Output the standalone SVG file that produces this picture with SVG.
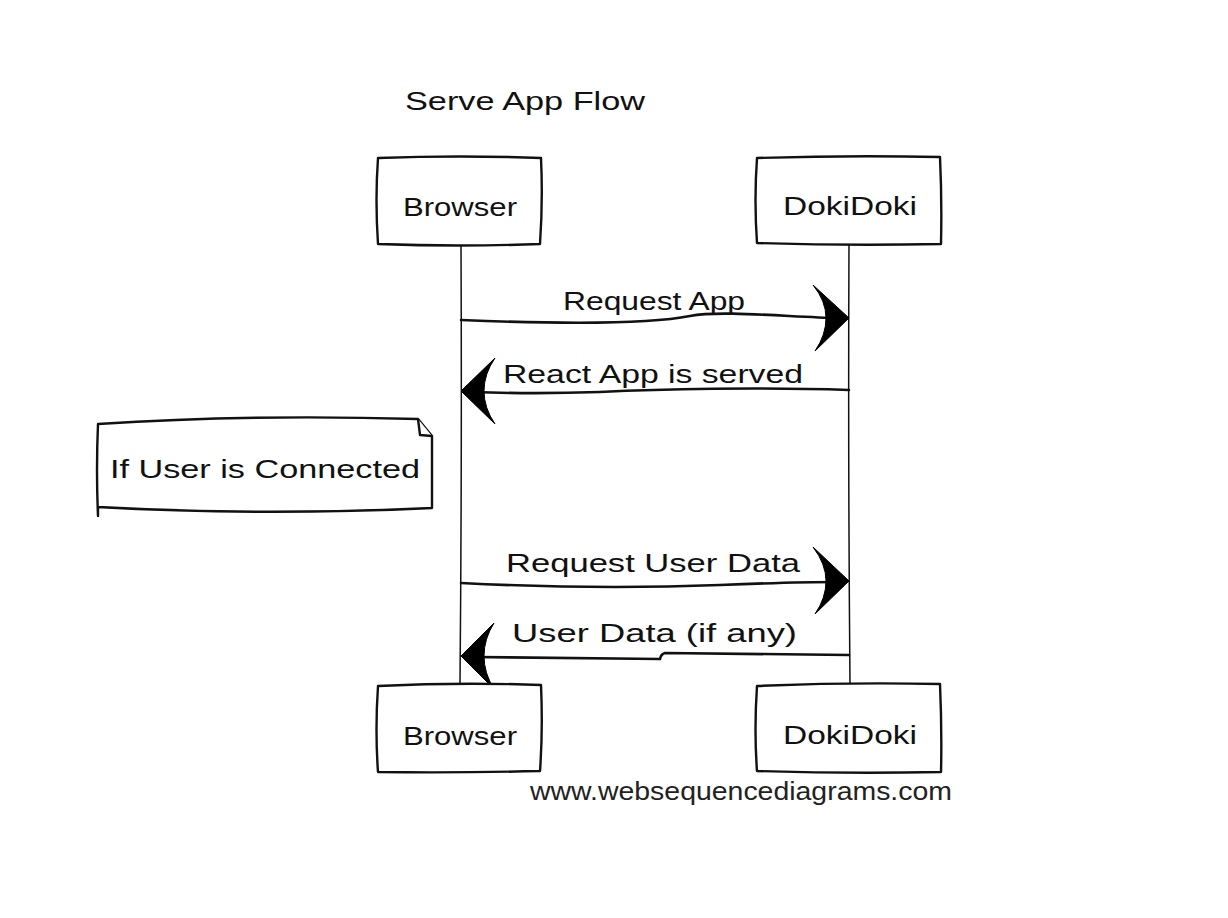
<svg xmlns="http://www.w3.org/2000/svg" width="1228" height="918" viewBox="0 0 1228 918">
<style>
.box{fill:#fff;stroke:#111;stroke-width:2.4;stroke-linejoin:round}
.life{fill:none;stroke:#111;stroke-width:1.5}
.msg{fill:none;stroke:#111;stroke-width:2.6;stroke-linecap:round}
.head{fill:#000;stroke:#000;stroke-width:1;stroke-linejoin:round}
.t{font-family:"Liberation Sans",Arial,sans-serif;fill:#111;font-size:26px}
.foot{font-family:"Liberation Sans",Arial,sans-serif;fill:#222;font-size:25px}
</style>
<rect width="1228" height="918" fill="#fff"/>
<text class="t" x="405" y="110" font-size="28" textLength="240" lengthAdjust="spacingAndGlyphs">Serve App Flow</text>

<g id="connectors">
<path class="life" d="M461,245 Q462,460 460,685"/>
<path class="life" d="M849,245 Q848,460 850,685"/>
<g id="m1">
<path class="msg" d="M461,320 C560,324 650,324 690,316 C720,310 790,317 838,318"/>
<path class="head" d="M849,318 L813,285 Q826,301 826,318 Q826,335 815,351 Z"/>
<text class="t" x="563" y="310" textLength="182" lengthAdjust="spacingAndGlyphs">Request App</text>
</g>
<g id="m2">
<path class="msg" d="M849,390 C760,387 660,389 600,392 C540,394 500,393 472,392"/>
<path class="head" d="M461,391 L495,358 Q484,374 484,391 Q484,408 495,424 Z"/>
<text class="t" x="503" y="383" textLength="300" lengthAdjust="spacingAndGlyphs">React App is served</text>
</g>
<g id="m3">
<path class="msg" d="M461,583 C560,588 640,588 720,585 C770,583 810,582 838,582"/>
<path class="head" d="M849,581 L813,547 Q826,564 826,581 Q826,598 815,614 Z"/>
<text class="t" x="506" y="572" textLength="294" lengthAdjust="spacingAndGlyphs">Request User Data</text>
</g>
<g id="m4">
<path class="msg" d="M849,655 L665,653 Q661,654 660,659 L472,657"/>
<path class="head" d="M461,656 L494,623 Q484,639 484,656 Q484,673 494,689 Z"/>
<text class="t" x="512" y="642" textLength="285" lengthAdjust="spacingAndGlyphs">User Data (if any)</text>
</g>
</g>

<g id="browser-top">
<path class="box" d="M378,158 Q460,155 541,158 Q543,200 540,244 Q460,247 378,244 Q375,200 378,158 Z"/>
<text class="t" x="403" y="216" textLength="114" lengthAdjust="spacingAndGlyphs">Browser</text>
</g>
<g id="dokidoki-top">
<path class="box" d="M757,158 Q850,155 940,157 Q942,200 941,244 Q850,246 757,243 Q754,200 757,158 Z"/>
<text class="t" x="783" y="215" textLength="134" lengthAdjust="spacingAndGlyphs">DokiDoki</text>
</g>
<g id="note">
<path class="box" d="M98,424 Q250,414 418,419 L432,436 L432,508 Q260,516 98,507 L98,516 Q96,470 98,424 Z"/>
<path class="box" d="M418,419 L420,435 L432,436" fill="#fff"/>
<text class="t" x="110" y="478" textLength="310" lengthAdjust="spacingAndGlyphs">If User is Connected</text>
</g>
<g id="browser-bottom">
<path class="box" d="M378,686 Q460,682 541,685 Q543,730 540,771 Q460,773 378,772 Q375,730 378,686 Z"/>
<text class="t" x="403" y="745" textLength="114" lengthAdjust="spacingAndGlyphs">Browser</text>
</g>
<g id="dokidoki-bottom">
<path class="box" d="M757,686 Q850,682 940,684 Q942,730 941,772 Q850,774 757,771 Q754,730 757,686 Z"/>
<text class="t" x="783" y="744" textLength="134" lengthAdjust="spacingAndGlyphs">DokiDoki</text>
</g>
<text class="foot" x="530" y="800" textLength="422" lengthAdjust="spacingAndGlyphs">www.websequencediagrams.com</text>
</svg>
